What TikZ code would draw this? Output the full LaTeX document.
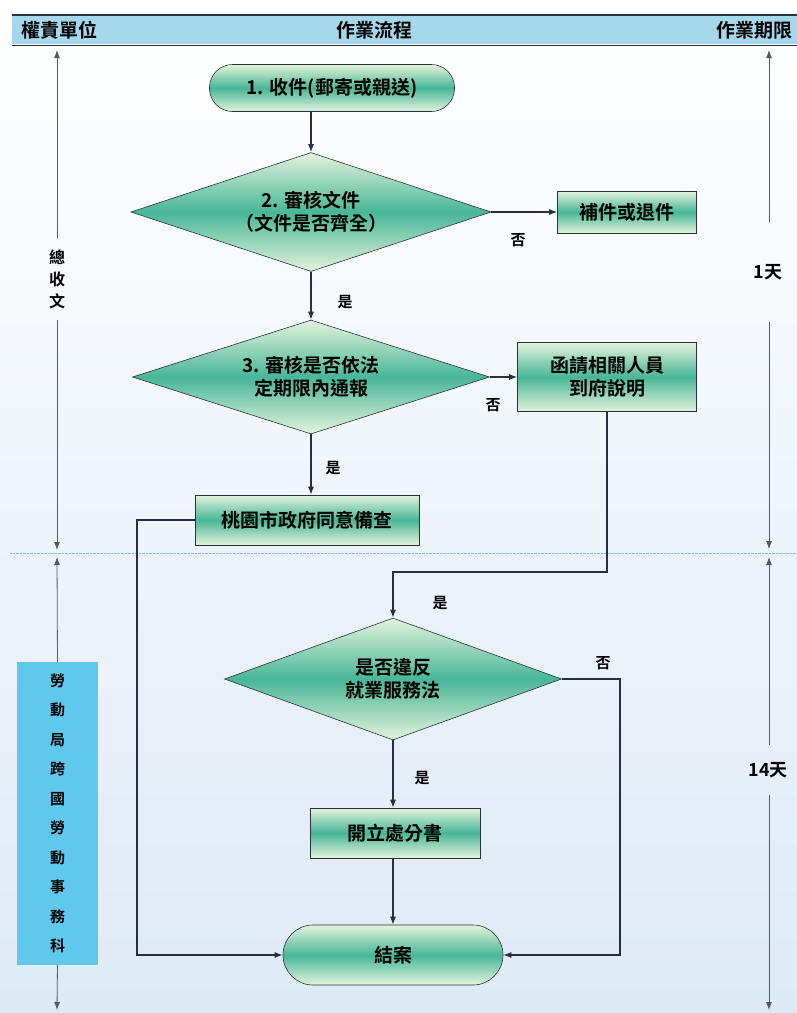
\documentclass[tikz,border=0pt]{standalone}
\usepackage{fontspec}
\setmainfont{Noto Sans CJK TC}[BoldFont={Noto Sans CJK TC Bold}]
\usetikzlibrary{shapes.geometric,arrows.meta}
\definecolor{flowmid}{RGB}{72,182,152}
\definecolor{flowlight}{RGB}{228,243,220}
\definecolor{hdrblue}{RGB}{166,216,236}
\definecolor{unitblue}{RGB}{96,200,236}
\definecolor{edgegray}{RGB}{40,48,62}
\definecolor{rulecyan}{RGB}{120,190,220}
\definecolor{bgblue}{RGB}{222,234,246}

\begin{document}
\begin{tikzpicture}[x=1pt, y=-1pt, >={Latex[length=8pt,width=6pt]},
    font=\fontsize{19}{23}\selectfont\bfseries,
    flowfill/.style={draw=edgegray, semithick, top color=flowlight, bottom color=flowlight, middle color=flowmid},
    proc/.style={flowfill, rectangle, inner sep=0pt, align=center},
    term/.style={flowfill, rectangle, inner sep=0pt},
    decide/.style={flowfill, diamond, shape aspect=3, inner sep=0pt, align=center},
    yesno/.style={font=\fontsize{15}{17}\selectfont\bfseries},
    vtext/.style={align=center, inner sep=0pt, font=\fontsize{16}{22}\selectfont\bfseries},
    link/.style={line width=1.1pt, edgegray},
    sidelink/.style={line width=0.8pt, edgegray!80}]
  % background and header
  \fill[top color=white, bottom color=bgblue] (0,0) rectangle (797,1013);
  \useasboundingbox (0,0) rectangle (797,1013);
  \fill[hdrblue] (12,16) rectangle (797,44);
  \draw[very thick, edgegray] (12,15) -- (797,15);
  \draw[semithick, edgegray] (12,45) -- (797,45);
  \node (unit) at (59,30) {權責單位};
  \node (flow) at (374,30) {作業流程};
  \node (limit) at (754,30) {作業期限};
  \draw[rulecyan, densely dotted] (10,553) -- (797,553);

  % side columns
  \coordinate (ltop) at (57,50);
  \coordinate (lmid) at (57,550);
  \coordinate (lmid2) at (57,557);
  \coordinate (lbot) at (57,1010);
  \coordinate (rtop) at (769,50);
  \coordinate (rmid) at (769,549);
  \coordinate (rmid2) at (769,557);
  \coordinate (rbot) at (769,1010);
  \node[vtext, minimum height=82pt] (recv) at (57,279) {總\\收\\文};
  \node[vtext, fill=unitblue, minimum width=81pt, minimum height=303pt,
        font=\fontsize{15}{29.5}\selectfont\bfseries] (labor) at (57.5,813.5)
        {勞\\動\\局\\跨\\國\\勞\\動\\事\\務\\科};
  \node[vtext, font=\fontsize{18}{22}\selectfont\bfseries, minimum height=100pt] (day1) at (768,272) {1天};
  \node[vtext, font=\fontsize{18}{22}\selectfont\bfseries, minimum height=50pt] (day14) at (768,770) {14天};
  \draw[sidelink, ->] (recv.north) -- (ltop);
  \draw[sidelink, ->] (recv.south) -- (lmid);
  \draw[sidelink, ->] (labor.north) -- (lmid2);
  \draw[sidelink, ->] (labor.south) -- (lbot);
  \draw[sidelink, ->] (day1.north -| rtop) -- (rtop);
  \draw[sidelink, ->] (day1.south -| rtop) -- (rmid);
  \draw[sidelink, ->] (day14.north -| rtop) -- (rmid2);
  \draw[sidelink, ->] (day14.south -| rtop) -- (rbot);

  % flow
  \node[term, rounded corners=23pt, minimum width=245pt, minimum height=47pt] (recvdoc) at (332,88) {1. 收件(郵寄或親送)};
  \node[decide, minimum width=360pt, minimum height=119pt] (chkdoc) at (311,212) {2. 審核文件\\（文件是否齊全）};
  \node[proc, minimum width=139pt, minimum height=42pt] (resend) at (627,212) {補件或退件};
  \node[decide, minimum width=357pt, minimum height=114pt] (chklaw) at (311,377) {3. 審核是否依法\\定期限內通報};
  \node[proc, minimum width=179pt, minimum height=69pt] (explain) at (607,377) {函請相關人員\\到府說明};
  \node[proc, minimum width=224pt, minimum height=50pt] (approve) at (307,520) {桃園市政府同意備查};
  \node[decide, minimum width=337pt, minimum height=122pt] (violate) at (393,679) {是否違反\\就業服務法};
  \node[proc, minimum width=170pt, minimum height=50pt] (penalty) at (395,833) {開立處分書};
  \node[term, rounded corners=30pt, minimum width=220pt, minimum height=60pt] (close) at (393,955) {結案};
  \coordinate (merge) at (393,572);
  \coordinate (rightrail) at (620,679);
  \coordinate (leftrail) at (137,520);

  \draw[link, ->] (recvdoc.south -| chkdoc.north) -- (chkdoc.north);
  \draw[link, ->] (chkdoc.east) -- (resend.west);
  \draw[link, ->] (chkdoc.south) -- (chklaw.north);
  \draw[link, ->] (chklaw.east) -- (explain.west);
  \draw[link, ->] (chklaw.south) -- (chklaw.south |- approve.north);
  \draw[link, ->] (explain.south) |- (merge) -- (violate.north);
  \draw[link, ->] (violate.south) -- (violate.south |- penalty.north);
  \draw[link, ->] (penalty.south -| close.north) -- (close.north);
  \draw[link, ->] (violate.east) -- (rightrail) |- (close.east);
  \draw[link, ->] (approve.west) -- (leftrail) |- (close.west);

  % yes / no labels
  \node[yesno] (no1) at (518,240) {否};
  \node[yesno] (yes1) at (345,302) {是};
  \node[yesno] (no2) at (493,405) {否};
  \node[yesno] (yes2) at (333,468) {是};
  \node[yesno] (yes3) at (440,603) {是};
  \node[yesno] (no3) at (603,663) {否};
  \node[yesno] (yes4) at (422,778) {是};
\end{tikzpicture}
\end{document}
